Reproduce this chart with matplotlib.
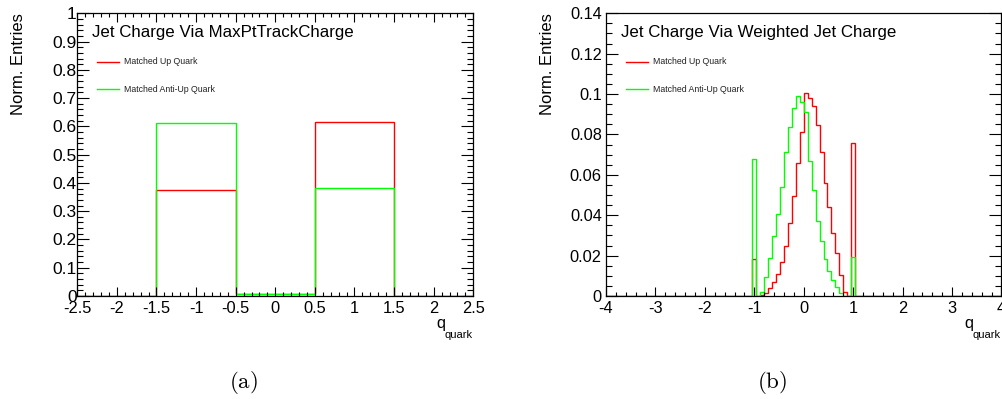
import numpy as np
import matplotlib
matplotlib.use("Agg")
import matplotlib.pyplot as plt
from matplotlib.ticker import MultipleLocator, FuncFormatter

plt.rcParams['font.family'] = ['Liberation Sans', 'DejaVu Sans']
plt.rcParams['axes.unicode_minus'] = False
plt.rcParams['mathtext.fontset'] = 'cm'

# ---------------- data ----------------
# Panel (a): MaxPtTrackCharge, 5 unit-wide bins
edges_a = [-2.5, -1.5, -0.5, 0.5, 1.5, 2.5]
up_a = [0.0, 0.3756, 0.007, 0.617, 0.0]
antiup_a = [0.0, 0.612, 0.007, 0.3805, 0.0]

# Panel (b): Weighted jet charge, bins of 0.08 between -1.04 and 1.04 (empty elsewhere)
inner_edges_b = [round(-1.04 + 0.08 * i, 2) for i in range(27)]
edges_b = [-4.0] + inner_edges_b + [4.0]
up_b = [0.0,
        0.0185, 0.0, 0.0005, 0.0017, 0.0038, 0.0067, 0.0109, 0.017, 0.025,
        0.0363, 0.0497, 0.066, 0.0812, 0.1006, 0.0982, 0.0943, 0.0845, 0.0711,
        0.0562, 0.0439, 0.031, 0.0211, 0.0104, 0.0021, 0.0, 0.0756,
        0.0]
antiup_b = [0.0,
            0.068, 0.0, 0.0021, 0.0092, 0.0188, 0.0297, 0.0406, 0.0541, 0.0713,
            0.0837, 0.0932, 0.0989, 0.0959, 0.0909, 0.0668, 0.0525, 0.0373, 0.027,
            0.0182, 0.0125, 0.0079, 0.0043, 0.0017, 0.0, 0.0, 0.0195,
            0.0]

titles = ["Jet Charge Via MaxPtTrackCharge", "Jet Charge Via Weighted Jet Charge"]
legend_labels = ["Matched Up Quark", "Matched Anti-Up Quark"]
captions = ["(a)", "(b)"]

RED = "#ff0000"
GREEN = "#00ff00"

fig = plt.figure(figsize=(10.03, 3.99), dpi=100)
W, H = 1003.0, 399.0

def make_axes(left_px, right_px, top_px, bottom_px):
    return fig.add_axes([left_px / W, 1 - bottom_px / H,
                         (right_px - left_px) / W, (bottom_px - top_px) / H])

ax_a = make_axes(77.3, 473.3, 13.3, 296.0)
ax_b = make_axes(606.0, 1001.5, 13.3, 296.0)

def fmt(v, p):
    s = f"{round(v, 6):g}"
    return "0" if s == "-0" else s

def style(ax, xlim, ylim, xmaj, xmin, ymaj, ymin, top_ticks, ypad, ylabsize):
    ax.set_xlim(*xlim)
    ax.set_ylim(*ylim)
    ax.xaxis.set_major_locator(MultipleLocator(xmaj))
    ax.xaxis.set_minor_locator(MultipleLocator(xmin))
    ax.yaxis.set_major_locator(MultipleLocator(ymaj))
    ax.yaxis.set_minor_locator(MultipleLocator(ymin))
    ax.xaxis.set_major_formatter(FuncFormatter(fmt))
    ax.yaxis.set_major_formatter(FuncFormatter(fmt))
    ax.tick_params(axis='x', which='major', direction='in', length=6.5, width=0.8,
                   top=top_ticks, bottom=True, labelsize=11.8, pad=3.8)
    ax.tick_params(axis='x', which='minor', direction='in', length=3.2, width=0.8,
                   top=top_ticks, bottom=True)
    ax.tick_params(axis='y', which='major', direction='in', length=8.6, width=0.8,
                   left=True, right=True, labelsize=ylabsize, pad=ypad)
    ax.tick_params(axis='y', which='minor', direction='in', length=4.3, width=0.8,
                   left=True, right=True)
    for sp in ax.spines.values():
        sp.set_linewidth(0.9)
        sp.set_color('black')

def decorate(ax, title, axw_px):
    ax.text(0.037, 0.915, title, transform=ax.transAxes, fontsize=12.2,
            ha='left', va='baseline')
    ys = [0.8288, 0.7322]
    cols = [RED, GREEN]
    for y, c, lab in zip(ys, cols, legend_labels):
        ax.plot([0.051, 0.106], [y, y], transform=ax.transAxes, color=c,
                lw=1.0, clip_on=False)
        ax.text(0.119, y, lab, transform=ax.transAxes, fontsize=6.3,
                ha='left', va='center', color='#222222')
    ax.text(-0.149, 1.0, "Norm. Entries", transform=ax.transAxes, rotation=90,
            fontsize=12, ha='center', va='top')
    sub_w = 27.7 / axw_px
    ax.text(0.998, -0.1468, "quark", transform=ax.transAxes, fontsize=8,
            ha='right', va='baseline')
    ax.text(0.998 - sub_w + 0.002, -0.1143, "q", transform=ax.transAxes,
            fontsize=11.8, ha='right', va='baseline')

# Panel (a)
ax_a.stairs(up_a, edges_a, color=RED, lw=1.0, baseline=0)
ax_a.stairs(antiup_a, edges_a, color=GREEN, lw=1.0, baseline=0)
style(ax_a, (-2.5, 2.5), (0, 1.0), 0.5, 0.1, 0.1, 0.02, True, 0.5, 12.5)
decorate(ax_a, titles[0], 396.0)

# Panel (b)
ax_b.stairs(up_b, edges_b, color=RED, lw=1.0, baseline=0)
ax_b.stairs(antiup_b, edges_b, color=GREEN, lw=1.0, baseline=0)
style(ax_b, (-4, 4), (0, 0.14), 1, 0.2, 0.02, 0.005, False, 3.0, 11.8)
decorate(ax_b, titles[1], 395.5)

fig.text(243 / W, 1 - 383 / H, r"$\mathrm{" + captions[0] + "}$", fontsize=16.5,
         ha='center', va='center')
fig.text(771.7 / W, 1 - 383 / H, r"$\mathrm{" + captions[1] + "}$", fontsize=16.5,
         ha='center', va='center')

fig.savefig("out.png", dpi=100)
